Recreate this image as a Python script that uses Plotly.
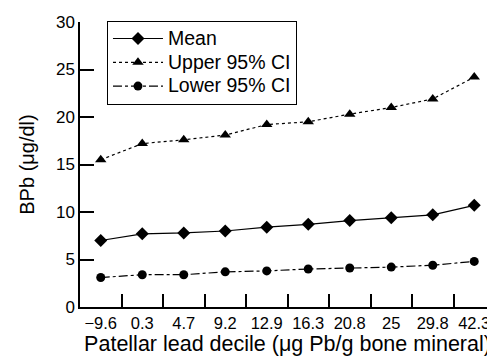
import plotly.graph_objects as go

categories = ["\u22129.6", "0.3", "4.7", "9.2", "12.9", "16.3", "20.8", "25", "29.8", "42.3"]
mean_vals = [7.0, 7.7, 7.8, 8.0, 8.4, 8.7, 9.1, 9.4, 9.7, 10.7]
upper_vals = [15.5, 17.2, 17.6, 18.1, 19.2, 19.5, 20.3, 21.0, 21.9, 24.2]
lower_vals = [3.1, 3.4, 3.4, 3.7, 3.8, 4.0, 4.1, 4.2, 4.4, 4.8]
series_names = ["Mean", "Upper 95% CI", "Lower 95% CI"]

FONT = "Liberation Sans, Arial, sans-serif"

def legend_label(name):
    # larger rendered text, while legend row spacing follows the smaller legend font size
    return "<span style='font-size:19.5px'>" + name + "</span>"

fig = go.Figure()
fig.add_trace(go.Scatter(x=categories, y=mean_vals, name=legend_label(series_names[0]), mode="lines+markers",
                         line=dict(color="black", width=1.2, dash="solid"),
                         marker=dict(symbol="diamond", size=10, color="black")))
fig.add_trace(go.Scatter(x=categories, y=upper_vals, name=legend_label(series_names[1]), mode="lines+markers",
                         line=dict(color="black", width=1.2, dash="dot"),
                         marker=dict(symbol="triangle-up", size=10, color="black")))
fig.add_trace(go.Scatter(x=categories, y=lower_vals, name=legend_label(series_names[2]), mode="lines+markers",
                         line=dict(color="black", width=1.2, dash="dashdot"),
                         marker=dict(symbol="circle", size=9, color="black")))

# page body has an 8px margin, so the figure is sized to fill the remaining window
fig.update_layout(
    width=487, height=350,
    margin=dict(l=72, r=0, t=14, b=51),
    paper_bgcolor="white", plot_bgcolor="white",
    font=dict(family=FONT, color="black", size=17),
    showlegend=True,
    legend=dict(x=0.065, y=1.005, xanchor="left", yanchor="top",
                bordercolor="black", borderwidth=1, bgcolor="white", itemwidth=50,
                font=dict(size=16, family=FONT), tracegroupgap=0),
)
fig.update_xaxes(type="category", range=[-0.5, 9.5], showline=True, linecolor="black", linewidth=1.5,
                 ticks="inside", tickson="boundaries", ticklen=13, tickcolor="black", tickwidth=1.6,
                 showgrid=False, zeroline=False, tickfont=dict(size=16.5), tickangle=0, automargin=False,
                 title=dict(text="Patellar lead decile (\u03bcg Pb/g bone mineral)", font=dict(size=21.5), standoff=3))
fig.update_yaxes(range=[0, 30], tickvals=[0, 5, 10, 15, 20, 25, 30], showline=True, linecolor="black", linewidth=1.5,
                 ticks="inside", ticklen=14, tickcolor="black", tickwidth=1.6, automargin=False,
                 showgrid=False, zeroline=False, tickfont=dict(size=17),
                 title=dict(text="BPb (\u03bcg/dl)", font=dict(size=20), standoff=16))

fig.write_html("out.html")
